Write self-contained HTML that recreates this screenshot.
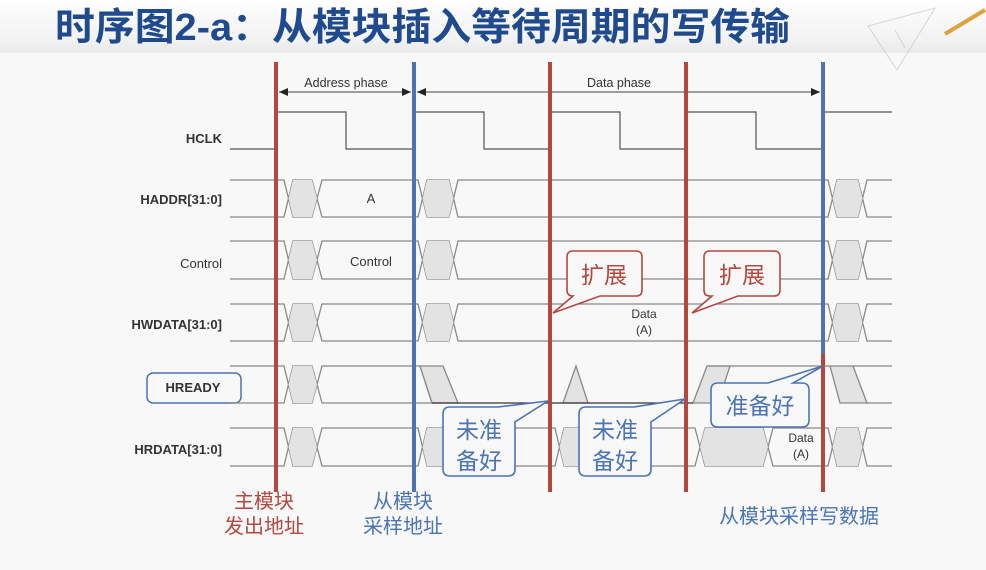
<!DOCTYPE html>
<html><head><meta charset="utf-8"><style>
html,body{margin:0;padding:0;background:#f8f8f8;}
svg{display:block;}
</style></head><body>
<svg width="986" height="570" viewBox="0 0 986 570" xmlns="http://www.w3.org/2000/svg" font-family="'Liberation Sans','Noto Sans CJK SC',sans-serif">
<defs>
<linearGradient id="hd" x1="0" y1="0" x2="0" y2="1"><stop offset="0" stop-color="#ffffff"/><stop offset="0.75" stop-color="#f2f2f2"/><stop offset="1" stop-color="#e9e9e9"/></linearGradient>
<marker id="ar" markerWidth="10" markerHeight="8" refX="9" refY="4" orient="auto" markerUnits="userSpaceOnUse"><path d="M0,0 L9,4 L0,8 z" fill="#222"/></marker>
<marker id="al" markerWidth="10" markerHeight="8" refX="1" refY="4" orient="auto" markerUnits="userSpaceOnUse"><path d="M10,0 L1,4 L10,8 z" fill="#222"/></marker>
</defs>
<rect width="986" height="570" fill="#f8f8f8"/>
<rect width="986" height="53" fill="url(#hd)"/>
<!-- decoration top-right -->
<g stroke="#ccc" fill="none" stroke-width="1" opacity="0.8">
<path d="M868,26 L935,8 L897,70 Z"/><path d="M895,30 L905,48"/>
</g>
<path d="M945,34 L985,10" stroke="#e0a040" stroke-width="4"/>
<text x="55" y="40" font-size="38" font-weight="bold" fill="#1f4b8e" font-family="'Liberation Sans','Noto Sans CJK SC',sans-serif" textLength="735" lengthAdjust="spacingAndGlyphs">时序图2-a：从模块插入等待周期的写传输</text>

<!-- phase arrows -->
<text x="346" y="87" font-size="12.5" fill="#333" text-anchor="middle">Address phase</text>
<text x="619" y="87" font-size="12.5" fill="#333" text-anchor="middle">Data phase</text>
<line x1="279" y1="92" x2="411" y2="92" stroke="#444" stroke-width="1" marker-start="url(#al)" marker-end="url(#ar)"/>
<line x1="417" y1="92" x2="820" y2="92" stroke="#444" stroke-width="1" marker-start="url(#al)" marker-end="url(#ar)"/>

<!-- signal labels -->
<g font-size="13" fill="#333" text-anchor="end">
<text x="222" y="143" font-weight="bold">HCLK</text>
<text x="222" y="204" font-weight="bold">HADDR[31:0]</text>
<text x="222" y="268">Control</text>
<text x="222" y="329" font-weight="bold">HWDATA[31:0]</text>
<text x="222" y="454" font-weight="bold">HRDATA[31:0]</text>
</g>
<rect x="147" y="373" width="94" height="30" rx="6" fill="#f8f8f8" stroke="#4a74b4" stroke-width="1.5"/>
<text x="193" y="392" font-size="13" font-weight="bold" fill="#333" text-anchor="middle">HREADY</text>

<!-- HCLK -->
<path d="M230,149 H276 V112 H346 V149 H414 V112 H484 V149 H550 V112 H620 V149 H686 V112 H756 V149 H823 V112 H892" fill="none" stroke="#555" stroke-width="1.2"/>

<g fill="#e3e3e3" stroke="#888" stroke-width="1.3">
<!-- bus rows: top,bottom -->
<!-- HADDR 180-217 -->
<path d="M230,180 H284 L293,217 H312 L322,180 H418 L427,217 H449 L458,180 H828 L837,217 H858 L867,180 H892" fill="none"/>
<path d="M230,217 H284 L293,180 H312 L322,217 H418 L427,180 H449 L458,217 H828 L837,180 H858 L867,217 H892" fill="none"/>
<polygon points="288.5,198.5 293,180 312,180 317,198.5 312,217 293,217" stroke="none"/>
<polygon points="422.5,198.5 427,180 449,180 453.5,198.5 449,217 427,217" stroke="none"/>
<polygon points="832.5,198.5 837,180 858,180 862.5,198.5 858,217 837,217" stroke="none"/>
<!-- Control 241-279 -->
<path d="M230,241 H284 L293,279 H312 L322,241 H418 L427,279 H449 L458,241 H828 L837,279 H858 L867,241 H892" fill="none"/>
<path d="M230,279 H284 L293,241 H312 L322,279 H418 L427,241 H449 L458,279 H828 L837,241 H858 L867,279 H892" fill="none"/>
<polygon points="288.5,260 293,241 312,241 317,260 312,279 293,279" stroke="none"/>
<polygon points="422.5,260 427,241 449,241 453.5,260 449,279 427,279" stroke="none"/>
<polygon points="832.5,260 837,241 858,241 862.5,260 858,279 837,279" stroke="none"/>
<!-- HWDATA 304-341 -->
<path d="M230,304 H284 L293,341 H312 L322,304 H418 L427,341 H449 L458,304 H828 L837,341 H858 L867,304 H892" fill="none"/>
<path d="M230,341 H284 L293,304 H312 L322,341 H418 L427,304 H449 L458,341 H828 L837,304 H858 L867,341 H892" fill="none"/>
<polygon points="288.5,322.5 293,304 312,304 317,322.5 312,341 293,341" stroke="none"/>
<polygon points="422.5,322.5 427,304 449,304 453.5,322.5 449,341 427,341" stroke="none"/>
<polygon points="832.5,322.5 837,304 858,304 862.5,322.5 858,341 837,341" stroke="none"/>
<!-- HREADY 366-403 -->
<path d="M230,366 H284 L293,403 H312 L322,366 H420 L432,403" fill="none"/>
<path d="M230,403 H284 L293,366 H312 L322,403 H432" fill="none"/>
<polygon points="288.5,384.5 293,366 312,366 317,384.5 312,403 293,403" stroke="none"/>
<polygon points="420,366 443,366 458,403 432,403"/>
<polygon points="563,403 576,366 588,403"/>
<polygon points="693,403 707,366 730,366 718,403"/>
<path d="M707,366 H830" fill="none"/>
<polygon points="830,366 853,366 867,403 840,403"/>
<path d="M853,366 H892 M867,403 H892" fill="none"/>
<path d="M432,403 H693" fill="none" stroke="#333"/>
<!-- HRDATA 428-466 -->
<path d="M230,428 H284 L293,466 H312 L322,428 H418 L427,466 H449 L458,428 H555 L564,466 H581 L590,428 H695 L705,466 H763 L773,428 H828 L837,466 H858 L867,428 H892" fill="none"/>
<path d="M230,466 H284 L293,428 H312 L322,466 H418 L427,428 H449 L458,466 H555 L564,428 H581 L590,466 H695 L705,428 H763 L773,466 H828 L837,428 H858 L867,466 H892" fill="none"/>
<polygon points="288.5,447 293,428 312,428 317,447 312,466 293,466" stroke="none"/>
<polygon points="422.5,447 427,428 449,428 453.5,447 449,466 427,466" stroke="none"/>
<polygon points="559.5,447 564,428 581,428 585.5,447 581,466 564,466" stroke="none"/>
<polygon points="700,447 705,428 763,428 768,447 763,466 705,466" stroke="none"/>
<polygon points="832.5,447 837,428 858,428 862.5,447 858,466 837,466" stroke="none"/>
</g>

<g font-size="13" fill="#333" text-anchor="middle">
<text x="371" y="203">A</text>
<text x="371" y="266">Control</text>
<g font-size="12"><text x="644" y="318">Data</text><text x="644" y="334">(A)</text>
<text x="801" y="442">Data</text><text x="801" y="458">(A)</text></g>
</g>

<!-- vertical markers -->
<g stroke-width="4">
<line x1="276" y1="62" x2="276" y2="492" stroke="#b5473f"/>
<line x1="414" y1="62" x2="414" y2="492" stroke="#4a74b4"/>
<line x1="550" y1="62" x2="550" y2="492" stroke="#b5473f"/>
<line x1="686" y1="62" x2="686" y2="492" stroke="#b5473f"/>
<line x1="823" y1="62" x2="823" y2="354" stroke="#4a74b4"/>
<line x1="823" y1="354" x2="823" y2="492" stroke="#b5473f"/>
</g>

<!-- callouts -->
<g stroke-width="1.6" fill="#f8f8f8">
<path d="M575,251 H636 Q642,251 642,257 V290 Q642,296 636,296 H600 L553,313 L573,296 H573 Q567,296 567,290 V257 Q567,251 573,251 Z" stroke="#b5473f"/>
<path d="M710,251 H774 Q780,251 780,257 V290 Q780,296 774,296 H738 L692,313 L712,296 H710 Q704,296 704,290 V257 Q704,251 710,251 Z" stroke="#b5473f"/>
<path d="M450,407 H498 L548,401 L515,422 V469 Q515,476 508,476 H450 Q443,476 443,469 V414 Q443,407 450,407 Z" stroke="#4a74b4"/>
<path d="M586,407 H634 L685,399 L651,422 V469 Q651,476 644,476 H586 Q579,476 579,469 V414 Q579,407 586,407 Z" stroke="#4a74b4"/>
<path d="M718,383 H768 L823,366 L793,383 H802 Q809,383 809,390 V420 Q809,427 802,427 H718 Q711,427 711,420 V390 Q711,383 718,383 Z" stroke="#4a74b4"/>
</g>
<g font-size="23" font-family="'Liberation Sans','Noto Sans CJK SC',sans-serif">
<text x="604" y="283" fill="#b5473f" text-anchor="middle">扩展</text>
<text x="742" y="283" fill="#b5473f" text-anchor="middle">扩展</text>
<g fill="#4a74b4" text-anchor="middle">
<text x="479" y="438">未准</text><text x="479" y="469">备好</text>
<text x="615" y="438">未准</text><text x="615" y="469">备好</text>
<text x="760" y="414">准备好</text>
</g>
</g>

<!-- bottom labels -->
<g font-size="20" text-anchor="middle" font-family="'Liberation Sans','Noto Sans CJK SC',sans-serif">
<text x="264" y="508" fill="#b5473f">主模块</text>
<text x="264" y="533" fill="#b5473f">发出地址</text>
<text x="403" y="508" fill="#4a74b4">从模块</text>
<text x="403" y="533" fill="#4a74b4">采样地址</text>
<text x="799" y="523" fill="#4a74b4">从模块采样写数据</text>
</g>
</svg>
</body></html>
